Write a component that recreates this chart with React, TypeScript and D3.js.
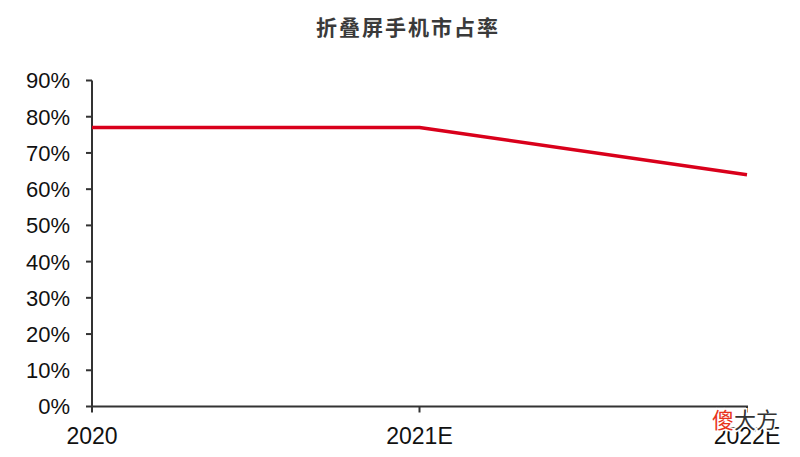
import React, { useEffect, useRef } from 'react';
import * as d3 from 'd3';

const categories = ['2020', '2021E', '2022E'];
const shareValues = [77, 77, 64];
const yTicks = [0, 10, 20, 30, 40, 50, 60, 70, 80, 90];
const title = '折叠屏手机市占率';

const width = 800;
const height = 457;

export default function App() {
  const svgRef = useRef<SVGSVGElement>(null);

  useEffect(() => {
    if (!svgRef.current) return;
    const svg = d3.select(svgRef.current);
    svg.selectAll('*').remove();

    const x = d3.scalePoint<string>().domain(categories).range([92, 747]);
    const y = d3.scaleLinear().domain([0, 90]).range([406.5, 80.5]);

    svg.append('rect').attr('width', width).attr('height', height).attr('fill', '#fff');

    svg.append('text')
      .attr('x', 408)
      .attr('y', 35)
      .attr('text-anchor', 'middle')
      .attr('font-family', '"Noto Sans CJK SC", sans-serif')
      .attr('font-weight', 'bold')
      .attr('font-size', 21)
      .attr('fill', '#3a3a3a')
      .attr('letter-spacing', 2)
      .text(title);

    // y axis
    const yAxis = svg.append('g').attr('transform', 'translate(92,0)');
    yAxis.append('line')
      .attr('x1', 0).attr('x2', 0)
      .attr('y1', y(90)).attr('y2', y(0))
      .attr('stroke', '#333').attr('stroke-width', 2);
    yAxis.selectAll('line.tick')
      .data(yTicks)
      .enter()
      .append('line')
      .attr('class', 'tick')
      .attr('x1', -6).attr('x2', 0)
      .attr('y1', d => y(d)).attr('y2', d => y(d))
      .attr('stroke', '#333').attr('stroke-width', 2);
    yAxis.selectAll('text')
      .data(yTicks)
      .enter()
      .append('text')
      .attr('x', -22)
      .attr('y', d => y(d))
      .attr('dy', '0.36em')
      .attr('text-anchor', 'end')
      .attr('font-family', '"Liberation Sans", Arial, sans-serif')
      .attr('font-size', 22)
      .attr('fill', '#111')
      .text(d => `${d}%`);

    // x axis
    const xAxis = svg.append('g');
    xAxis.append('line')
      .attr('x1', x(categories[0])!).attr('x2', x(categories[2])! + 1)
      .attr('y1', y(0)).attr('y2', y(0))
      .attr('stroke', '#333').attr('stroke-width', 2);
    xAxis.selectAll('line.tick')
      .data(categories)
      .enter()
      .append('line')
      .attr('class', 'tick')
      .attr('x1', d => x(d)!).attr('x2', d => x(d)!)
      .attr('y1', y(0)).attr('y2', y(0) + 6)
      .attr('stroke', '#333').attr('stroke-width', 2);
    xAxis.selectAll('text')
      .data(categories)
      .enter()
      .append('text')
      .attr('x', d => x(d)!)
      .attr('y', 444)
      .attr('text-anchor', 'middle')
      .attr('font-family', '"Liberation Sans", Arial, sans-serif')
      .attr('font-size', 23)
      .attr('fill', '#111')
      .text(d => d);

    const line = d3.line<number>()
      .x((_, i) => x(categories[i])!)
      .y(d => y(d));
    svg.append('path')
      .datum(shareValues)
      .attr('d', line)
      .attr('fill', 'none')
      .attr('stroke', '#d9001b')
      .attr('stroke-width', 3.5)
      .attr('stroke-linejoin', 'round');

    // watermark
    const wm = svg.append('text')
      .attr('x', 712)
      .attr('y', 428)
      .attr('font-family', '"Noto Sans CJK SC", sans-serif')
      .attr('font-size', 22)
      .attr('stroke', '#fff')
      .attr('stroke-width', 3)
      .attr('paint-order', 'stroke');
    wm.append('tspan').attr('fill', '#e8341c').text('傻');
    wm.append('tspan').attr('fill', '#333').text('大方');
  }, []);

  return (
    <svg
      ref={svgRef}
      width={width}
      height={height}
      style={{ position: 'absolute', left: 0, top: 0, display: 'block' }}
    />
  );
}
